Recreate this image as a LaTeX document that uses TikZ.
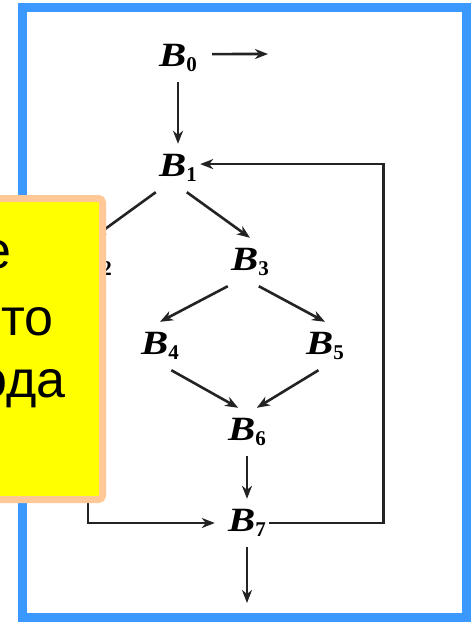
\documentclass[tikz,border=0pt]{standalone}
\usepackage{fontspec}
\setmainfont{Liberation Serif}
\newfontfamily\rufont{Liberation Sans}
\usetikzlibrary{arrows.meta, positioning, calc}
\definecolor{frameblue}{RGB}{59,152,255}
\definecolor{noteorange}{RGB}{255,200,150}
\definecolor{noteyellow}{RGB}{255,255,0}
\definecolor{edgegray}{RGB}{35,35,35}
\newcommand{\blk}[1]{\scalebox{1.2}[1]{\fontsize{34}{34}\selectfont\bfseries\itshape B}\raisebox{-5pt}{\fontsize{21}{21}\selectfont\bfseries #1}}

\tikzset{
  blkbox/.style={inner sep=0pt, minimum width=44pt, minimum height=48pt},
  flow/.style={draw=edgegray, line width=2.6pt, -{Stealth[length=13pt, width=10pt, inset=4pt]}},
  notetext/.style={anchor=base east, inner sep=0pt, font=\rufont\fontsize{52}{60}\selectfont},
}

\begin{document}
\begin{tikzpicture}[x=1pt, y=-1pt]
  \useasboundingbox (0,0) rectangle (471,622);
  \draw[frameblue, line width=9pt] (22.5,7.5) rectangle (466,617.5);

  % blocks
  \node[blkbox] (b0) at (178,58) {\blk{0}};
  \node[blkbox] (b1) at (178,168) {\blk{1}};
  \node[blkbox] (b2) at (93,262) {\blk{2}};
  \node[blkbox] (b3) at (250,262) {\blk{3}};
  \node[blkbox] (b4) at (160,346) {\blk{4}};
  \node[blkbox] (b5) at (325,346) {\blk{5}};
  \node[blkbox] (b6) at (247,432) {\blk{6}};
  \node[blkbox] (b7) at (247,523) {\blk{7}};
  \coordinate (b0out) at (268,54);
  \coordinate (b7out) at (247,603);

  % edges
  \draw[flow, shorten <=12pt] (b0.10) -- (b0out);
  \draw[flow] (b0.south) -- (b1.north);
  \draw[flow] (b1.south west) -- (b2.north);
  \draw[flow] (b1.-70) -- (b3.north);
  \draw[flow] (b3.south west) -- (b4.north);
  \draw[flow] (b3.-70) -- (b5.north);
  \draw[flow] (b4.-65) -- (b6.110);
  \draw[flow] (b5.-105) -- (b6.68);
  \draw[flow] (b6.south) -- (b7.north);
  \draw[flow] (b7.south) -- (b7out);
  \draw[flow, shorten >=10pt] (b2.-102) |- (b7.west);
  \draw[flow] (b7.east) -- ++(114,0) |- (b1.10);

  % note on top
  \draw[fill=noteyellow, draw=noteorange, line width=7pt, rounded corners=4pt] (-20,198.5) rectangle (102.5,499.5);
  \node[notetext] (note1) at (12,268) {е};
  \node[notetext] (note2) at (54,335) {то};
  \node[notetext] (note3) at (66,397) {ода};
\end{tikzpicture}
\end{document}
